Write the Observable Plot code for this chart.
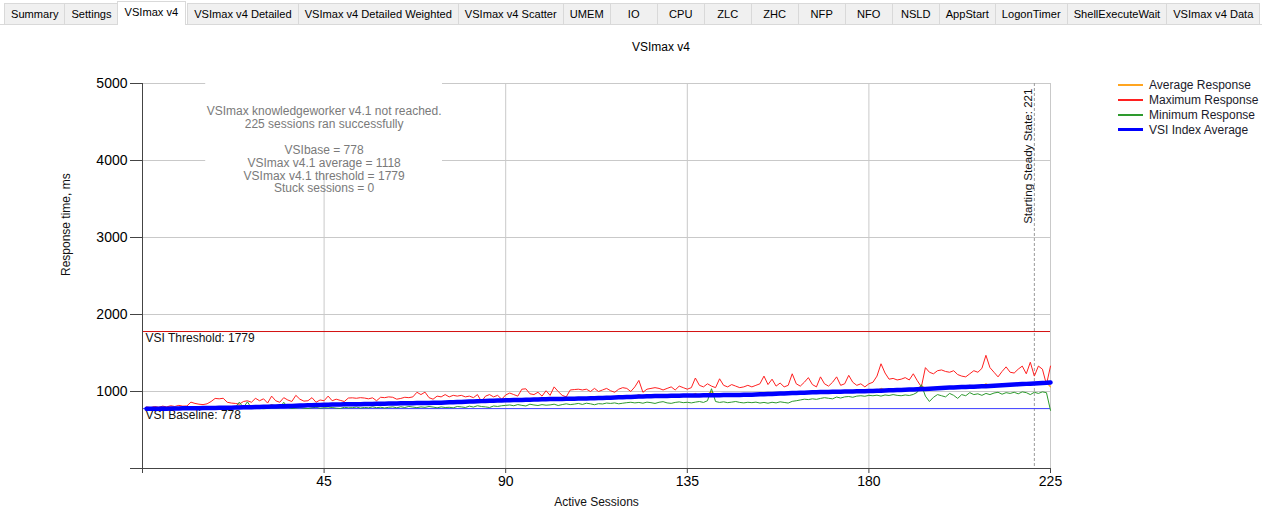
<!DOCTYPE html>
<html><head><meta charset="utf-8">
<script src="https://cdn.jsdelivr.net/npm/d3@7"></script>
<script src="https://cdn.jsdelivr.net/npm/@observablehq/plot@0.6"></script>
<style>
html,body{margin:0;padding:0;background:#fff}
body{font-family:"Liberation Sans",Arial,sans-serif;width:1262px;height:519px;overflow:hidden;position:relative}
#tabline{position:absolute;left:0;width:1262px;top:24px;border-top:1px solid #d9d9d9}
#tabs{position:absolute;left:4px;top:3px;height:21px;display:flex;align-items:flex-end}
.tab{box-sizing:border-box;height:21px;min-width:48px;padding:0 6px;font-size:11.1px;line-height:20px;text-align:center;background:#f0f0f0;border:1px solid #d9d9d9;border-bottom:none;margin-right:-1px;white-space:nowrap;color:#000}
.tab.sel{background:#fff;height:24px;margin:0 1px 0 -1px;padding:0 7px;line-height:20px;position:relative;top:1px;z-index:2}
#title{position:absolute;top:40px;left:661px;transform:translateX(-50%);font-size:12px;color:#000}
#chart{position:absolute;left:0;top:30px}
#legend{position:absolute;left:1118px;top:77px;font-size:12px;color:#1a1a2a}
.li{height:15px;display:flex;align-items:center}
.sw{width:25px;margin-right:6px}
</style></head>
<body>
<div id="tabline"></div>
<div id="tabs"></div>
<div id="title">VSImax v4</div>
<div id="chart"></div>
<div id="legend"></div>
<script>
const tabLabels = ["Summary","Settings","VSImax v4","VSImax v4 Detailed","VSImax v4 Detailed Weighted","VSImax v4 Scatter","UMEM","IO","CPU","ZLC","ZHC","NFP","NFO","NSLD","AppStart","LogonTimer","ShellExecuteWait","VSImax v4 Data"];
const selectedTab = "VSImax v4";
const chartTitle = "VSImax v4";

const seriesNames = ["Average Response","Maximum Response","Minimum Response","VSI Index Average"];
const xTicks = [0,45,90,135,180,225];
const yTicks = [0,1000,2000,3000,4000,5000];
const vsiThreshold = 1779;
const vsiBaseline = 778;
const steadyState = 221;
const annotationLines = ["VSImax knowledgeworker v4.1 not reached.","225 sessions ran successfully","","VSIbase = 778","VSImax v4.1 average = 1118","VSImax v4.1 threshold = 1779","Stuck sessions = 0"];

const sessions = d3.range(1, 226);

const vsiIndexAverage = [
775,776,775,777,778,777,779,780,779,781,782,781,783,784,785,
786,785,787,788,789,790,789,791,792,794,795,796,798,799,801,
803,805,806,808,810,812,813,815,817,819,821,823,825,826,828,
829,830,831,832,833,834,835,836,836,837,838,839,840,841,842,
843,844,845,846,847,848,849,850,851,852,852,853,854,855,857,
859,861,863,865,867,869,871,873,875,877,879,880,882,884,885,
887,888,889,891,892,894,895,897,898,900,901,902,903,904,905,
906,907,908,909,910,911,912,914,916,918,920,922,924,926,928,
930,932,934,935,937,938,940,941,942,943,944,945,946,947,948,
948,949,949,950,950,951,952,952,953,954,955,956,956,957,958,
959,961,963,965,967,969,971,973,975,977,979,981,983,985,987,
989,991,992,993,994,996,997,998,999,1000,1001,1002,1003,1004,1005,
1007,1009,1011,1013,1015,1017,1019,1021,1023,1025,1027,1029,1032,1034,1036,
1039,1042,1045,1048,1051,1053,1055,1057,1059,1061,1063,1065,1067,1069,1071,
1074,1077,1080,1083,1087,1090,1093,1096,1099,1101,1104,1107,1110,1113,1118];

const maxResponse = [
800,790,805,795,810,800,815,805,820,810,812,862,845,835,830,
840,870,910,905,912,860,850,845,835,870,880,860,912,880,905,
850,940,880,860,920,890,870,950,900,875,880,920,860,890,880,
940,880,900,885,870,915,918,912,920,915,905,918,880,925,920,
930,925,900,910,925,920,930,990,960,992,920,900,940,930,960,
930,950,940,950,930,940,920,960,870,940,960,930,950,900,955,
980,960,940,1030,1035,970,960,990,940,1010,950,1060,1000,950,930,
1020,1025,1030,1020,1030,1000,1040,1000,1020,1040,1010,990,1030,1050,1040,
1000,1060,1144,990,1030,1040,1050,1040,1020,1040,1060,1020,1070,1050,1030,
1050,1175,1080,1060,1100,1070,1050,1165,1080,1060,1090,1070,1050,1060,1080,
1060,1080,1100,1200,1090,1160,1070,1110,1060,1080,1230,1100,1070,1120,1180,
1090,1060,1190,1100,1070,1120,1190,1080,1100,1210,1120,1080,1100,1060,1100,
1120,1200,1360,1240,1160,1170,1150,1160,1180,1150,1230,1140,1060,1310,1250,
1230,1270,1280,1260,1250,1270,1220,1200,1190,1230,1270,1250,1300,1470,1310,
1250,1190,1260,1320,1250,1240,1290,1330,1230,1380,1200,1330,1290,1090,1330];

const minResponse = [
768,770,769,772,771,773,770,774,772,775,773,776,774,772,775,
777,774,776,779,775,778,780,790,862,790,866,785,778,782,776,
780,785,790,784,860,795,780,786,792,784,779,788,795,782,790,
786,792,784,780,795,788,790,798,785,793,788,800,790,796,786,
795,800,788,802,792,806,798,790,800,794,805,798,788,800,792,
795,788,805,800,792,810,798,815,805,800,792,812,806,815,820,
825,815,830,820,812,835,825,818,830,822,826,835,818,830,840,
830,836,845,832,848,840,828,842,838,850,845,852,840,848,855,
860,852,858,848,862,855,845,860,868,852,846,858,865,855,860,
852,862,870,858,880,1036,870,858,866,855,862,870,858,852,860,
855,862,850,858,848,860,852,866,858,850,872,880,890,900,895,
905,898,910,920,912,905,928,915,930,935,925,940,945,938,950,
945,952,940,955,948,960,950,945,955,948,962,990,1088,940,870,
925,960,945,930,975,950,910,960,945,985,960,970,950,975,960,
980,990,965,985,975,990,970,995,985,960,990,975,995,985,755];

const avgResponse = [
776,778,775,780,779,777,781,782,779,783,784,781,790,786,784,
788,785,792,790,789,793,788,795,815,800,815,796,794,810,797,
800,830,806,802,830,808,810,818,815,812,820,825,818,830,822,
828,825,832,829,835,830,838,832,836,838,835,842,840,836,845,
842,848,840,850,846,852,848,855,860,852,850,855,852,860,856,
862,858,868,864,870,866,875,872,870,880,876,885,880,884,890,
888,892,886,895,890,896,892,898,894,900,896,902,898,905,900,
904,910,905,915,908,912,906,918,912,920,916,910,925,920,935,
925,930,960,935,940,930,938,935,942,936,945,950,940,948,944,
950,975,945,952,960,1000,948,958,965,952,960,962,955,968,958,
962,968,960,970,975,968,978,980,972,985,978,990,982,988,985,
995,988,1000,992,1005,998,1002,1010,1000,1008,1004,1015,1006,1010,1012,
1020,1012,1040,1018,1025,1020,1030,1022,1035,1028,1032,1026,1080,1034,1040,
1045,1040,1055,1048,1060,1052,1050,1065,1058,1080,1062,1070,1068,1100,1072,
1080,1078,1100,1085,1095,1090,1105,1095,1110,1090,1105,1110,1100,1120,1060];

const colors = {avg:"#ffa520", max:"#ff2020", min:"#2e9a2e", vsi:"#0000ff"};

// tabs
const tabsEl = document.getElementById("tabs");
tabLabels.forEach(t => {
  const d = document.createElement("div");
  d.className = "tab" + (t === selectedTab ? " sel" : "");
  d.textContent = t;
  tabsEl.appendChild(d);
});
document.getElementById("title").textContent = chartTitle;

// legend
const legendEl = document.getElementById("legend");
const legendColors = [colors.avg, colors.max, colors.min, colors.vsi];
seriesNames.forEach((n, i) => {
  const row = document.createElement("div");
  row.className = "li";
  const sw = document.createElement("div");
  sw.className = "sw";
  sw.style.borderTop = (i === 3 ? 3 : 2) + "px solid " + legendColors[i];
  const tx = document.createElement("span");
  tx.textContent = n;
  row.appendChild(sw); row.appendChild(tx);
  legendEl.appendChild(row);
});

const rows = sessions.map((s, i) => ({s, avg: avgResponse[i], max: maxResponse[i], min: minResponse[i], vsi: vsiIndexAverage[i]}));

const fmt = d => d === 0 ? "" : String(d);
const font = "'Liberation Sans', Arial, sans-serif";

const plot = Plot.plot({
  width: 1262, height: 489,
  marginLeft: 142, marginRight: 212, marginTop: 53, marginBottom: 51,
  style: {fontFamily: font, fontSize: "12px", background: "transparent", color: "#000"},
  x: {domain: [0, 225], label: null},
  y: {domain: [0, 5000], label: null},
  marks: [
    Plot.gridX(xTicks, {stroke: "#c9c9c9", strokeOpacity: 1}),
    Plot.gridY(yTicks, {stroke: "#c9c9c9", strokeOpacity: 1}),
    Plot.text([annotationLines.join("\n")], {x: () => 45, frameAnchor: "top", lineAnchor: "top", dy: 22, lineHeight: 1.08, fill: "#7a7a7a", fontSize: 12, textAnchor: "middle"}),
    Plot.ruleX([steadyState], {stroke: "#9a9a9a", strokeDasharray: "3,2"}),
    Plot.text([`Starting Steady State: ${steadyState}`], {x: () => steadyState, frameAnchor: "top", rotate: -90, textAnchor: "end", lineAnchor: "bottom", dx: -2, dy: 5, fill: "#111", fontSize: 11.6}),
    Plot.ruleY([vsiThreshold], {stroke: "#d41010"}),
    Plot.ruleY([vsiBaseline], {stroke: "#3c3cff"}),
    Plot.text([vsiThreshold], {y: d => d, frameAnchor: "left", text: d => `VSI Threshold: ${d}`, textAnchor: "start", lineAnchor: "top", dx: 3, dy: 2, fill: "#111", fontSize: 12}),
    Plot.text([vsiBaseline], {y: d => d, frameAnchor: "left", text: d => `VSI Baseline: ${d}`, textAnchor: "start", lineAnchor: "top", dx: 3, dy: 2, fill: "#111", fontSize: 12}),
    Plot.line(rows, {x: "s", y: "max", stroke: colors.max, strokeWidth: 1}),
    Plot.line(rows, {x: "s", y: "avg", stroke: colors.avg, strokeWidth: 1.2}),
    Plot.line(rows, {x: "s", y: "min", stroke: colors.min, strokeWidth: 1}),
    Plot.line(rows, {x: "s", y: "vsi", stroke: colors.vsi, strokeWidth: 4.5}),
    Plot.axisY(yTicks, {tickSize: 12, tickPadding: 3, fontSize: 14, tickFormat: fmt, stroke: "#444", label: null}),
    Plot.axisX(xTicks, {tickSize: 5, tickPadding: 3, fontSize: 14, tickFormat: fmt, stroke: "#444", label: null}),
    Plot.ruleX([0], {stroke: "#444"}),
    Plot.ruleY([0], {stroke: "#444"}),
    Plot.text(["Response time, ms"], {frameAnchor: "left", dx: -76, rotate: -90, fontSize: 12, fill: "#111"}),
    Plot.text(["Active Sessions"], {frameAnchor: "bottom", dy: 37, fontSize: 12, fill: "#111"})
  ]
});
document.getElementById("chart").appendChild(plot);

// white background box behind the annotation block
plot.querySelectorAll("text").forEach(t => {
  if (t.textContent.includes("knowledgeworker")) {
    const g = t.parentNode;
    const b = g.getBBox();
    const ns = "http://www.w3.org/2000/svg";
    const r = document.createElementNS(ns, "rect");
    r.setAttribute("x", b.x - 1); r.setAttribute("y", b.y - 2);
    r.setAttribute("width", b.width + 2); r.setAttribute("height", b.height + 4);
    r.setAttribute("fill", "#fff");
    g.parentNode.insertBefore(r, g);
  }
});
</script>
</body></html>
